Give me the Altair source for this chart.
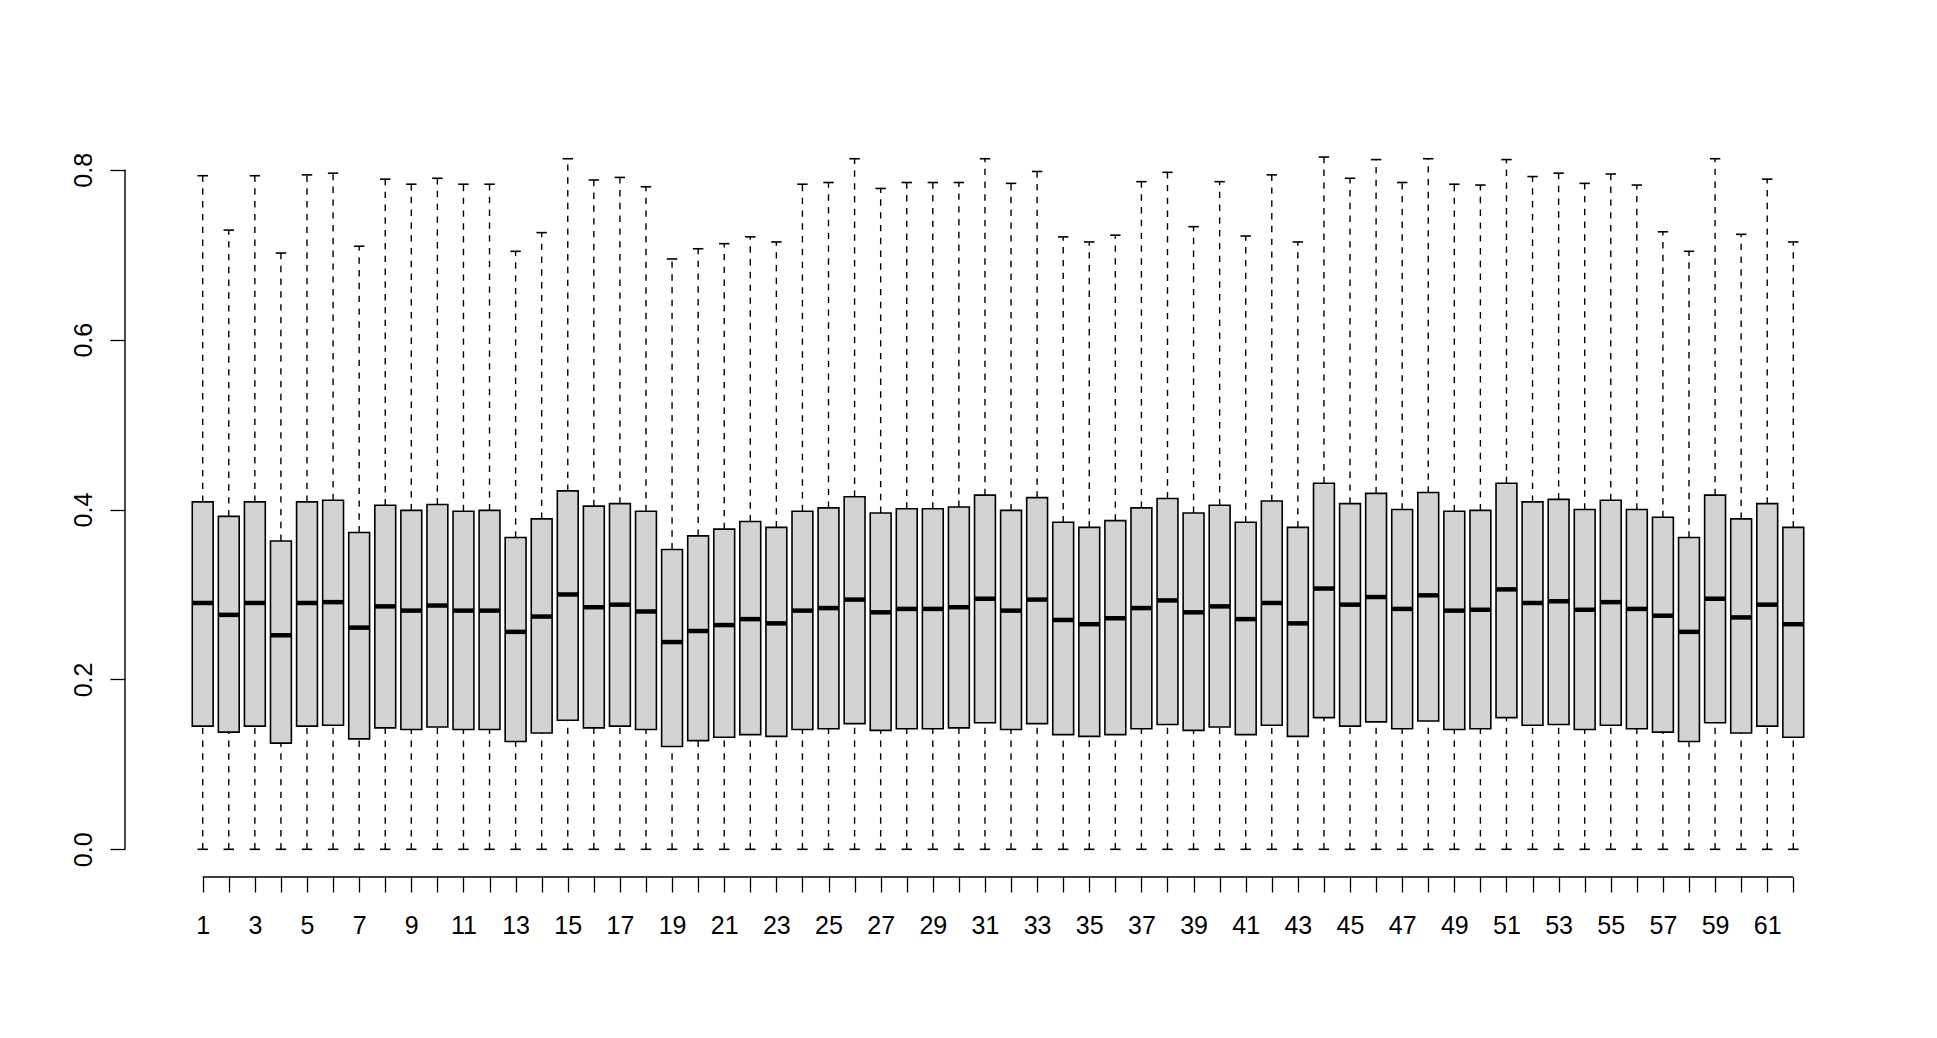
import altair as alt
import pandas as pd

idx = list(range(1, 63))

lo = [0.0] * 62

q1 = [0.145, 0.138, 0.145, 0.125, 0.145, 0.146, 0.130, 0.143, 0.141, 0.144,
      0.141, 0.141, 0.127, 0.137, 0.152, 0.143, 0.145, 0.141, 0.121, 0.128,
      0.132, 0.135, 0.133, 0.141, 0.142, 0.148, 0.140, 0.142, 0.142, 0.143,
      0.149, 0.141, 0.148, 0.135, 0.133, 0.135, 0.142, 0.147, 0.140, 0.144,
      0.135, 0.146, 0.133, 0.155, 0.145, 0.150, 0.142, 0.151, 0.141, 0.142,
      0.155, 0.146, 0.147, 0.141, 0.146, 0.142, 0.138, 0.127, 0.149, 0.137,
      0.145, 0.132]

med = [0.290, 0.276, 0.290, 0.252, 0.290, 0.291, 0.261, 0.286, 0.281, 0.287,
       0.281, 0.281, 0.256, 0.274, 0.300, 0.285, 0.288, 0.280, 0.244, 0.257,
       0.264, 0.271, 0.266, 0.281, 0.284, 0.294, 0.279, 0.283, 0.283, 0.285,
       0.295, 0.281, 0.294, 0.270, 0.265, 0.272, 0.284, 0.293, 0.279, 0.286,
       0.271, 0.290, 0.266, 0.307, 0.288, 0.297, 0.283, 0.299, 0.281, 0.282,
       0.306, 0.290, 0.292, 0.282, 0.291, 0.283, 0.275, 0.256, 0.295, 0.273,
       0.288, 0.265]

q3 = [0.409, 0.392, 0.409, 0.363, 0.409, 0.411, 0.373, 0.405, 0.399, 0.406,
      0.398, 0.399, 0.367, 0.389, 0.422, 0.404, 0.407, 0.398, 0.353, 0.369,
      0.377, 0.386, 0.379, 0.398, 0.402, 0.415, 0.396, 0.401, 0.401, 0.403,
      0.417, 0.399, 0.414, 0.385, 0.379, 0.387, 0.402, 0.413, 0.396, 0.405,
      0.385, 0.410, 0.379, 0.431, 0.407, 0.419, 0.400, 0.420, 0.398, 0.399,
      0.431, 0.409, 0.412, 0.400, 0.411, 0.400, 0.391, 0.367, 0.417, 0.389,
      0.407, 0.379]

hi = [0.793, 0.729, 0.793, 0.702, 0.794, 0.796, 0.710, 0.789, 0.783, 0.790,
      0.783, 0.783, 0.704, 0.726, 0.813, 0.788, 0.791, 0.780, 0.695, 0.707,
      0.713, 0.721, 0.715, 0.783, 0.785, 0.813, 0.778, 0.785, 0.785, 0.785,
      0.813, 0.784, 0.798, 0.721, 0.715, 0.723, 0.786, 0.797, 0.733, 0.786,
      0.722, 0.794, 0.715, 0.815, 0.790, 0.812, 0.785, 0.813, 0.783, 0.782,
      0.812, 0.792, 0.796, 0.784, 0.795, 0.782, 0.727, 0.704, 0.813, 0.724,
      0.789, 0.715]

y_ticks = [0.0, 0.2, 0.4, 0.6, 0.8]

df = pd.DataFrame({"idx": idx, "lo": lo, "q1": q1, "med": med, "q3": q3, "hi": hi})

FONT = "Liberation Sans"
FS = 25
XDOM = [-1.98, 64.98]
YDOM = [-0.0326, 0.848]

xscale = alt.Scale(domain=XDOM, nice=False, zero=False)
yscale = alt.Scale(domain=YDOM, nice=False, zero=False)

xaxis = alt.Axis(values=idx, labelExpr="datum.value % 2 == 1 ? datum.label : ''",
                 tickSize=15, tickWidth=1.3, tickColor="black", domain=False, grid=False,
                 labelPadding=33, labelBaseline="middle", labelAlign="center",
                 labelFont=FONT, labelFontSize=FS, labelColor="black",
                 labelOverlap=False, labelFlush=False, labelBound=False, title="")
yaxis = alt.Axis(values=y_ticks, format=".1f", labelAngle=270, labelAlign="center",
                 labelBaseline="middle", tickSize=15, tickWidth=1.3, tickColor="black",
                 domain=False, grid=False, labelPadding=27, labelFont=FONT,
                 labelFontSize=FS, labelColor="black", labelOverlap=False,
                 labelFlush=False, labelBound=False, title="")

base = alt.Chart(df).transform_calculate(
    xl="datum.idx - 0.4", xr="datum.idx + 0.4",
    sl="datum.idx - 0.2", sr="datum.idx + 0.2")

dash = [6.4, 6.4]

upper_wh = base.mark_rule(color="black", strokeWidth=1.4, strokeDash=dash).encode(
    x=alt.X("idx:Q", scale=xscale, axis=xaxis),
    y=alt.Y("q3:Q", scale=yscale, axis=yaxis),
    y2="hi:Q")
lower_wh = base.mark_rule(color="black", strokeWidth=1.4, strokeDash=dash).encode(
    x=alt.X("idx:Q", scale=xscale, axis=xaxis),
    y=alt.Y("lo:Q", scale=yscale, axis=yaxis),
    y2="q1:Q")
top_staple = base.mark_rule(color="black", strokeWidth=1.6).encode(
    x=alt.X("sl:Q", scale=xscale, axis=xaxis), x2="sr:Q",
    y=alt.Y("hi:Q", scale=yscale, axis=yaxis))
bot_staple = base.mark_rule(color="black", strokeWidth=1.6).encode(
    x=alt.X("sl:Q", scale=xscale, axis=xaxis), x2="sr:Q",
    y=alt.Y("lo:Q", scale=yscale, axis=yaxis))
boxes = base.mark_bar(fill="#d3d3d3", stroke="black", strokeWidth=1.6).encode(
    x=alt.X("xl:Q", scale=xscale, axis=xaxis), x2="xr:Q",
    y=alt.Y("q1:Q", scale=yscale, axis=yaxis), y2="q3:Q")
medians = base.mark_rule(color="black", strokeWidth=4.5).encode(
    x=alt.X("xl:Q", scale=xscale, axis=xaxis), x2="xr:Q",
    y=alt.Y("med:Q", scale=yscale, axis=yaxis))

yline = alt.Chart(pd.DataFrame({"x": [XDOM[0]], "y0": [0.0], "y1": [0.8]})).mark_rule(
    color="black", strokeWidth=1.4).encode(
    x=alt.X("x:Q", scale=xscale, axis=xaxis),
    y=alt.Y("y0:Q", scale=yscale, axis=yaxis), y2="y1:Q")
xline = alt.Chart(pd.DataFrame({"x0": [1], "x1": [62], "y": [YDOM[0]]})).mark_rule(
    color="black", strokeWidth=1.4).encode(
    x=alt.X("x0:Q", scale=xscale, axis=xaxis), x2="x1:Q",
    y=alt.Y("y:Q", scale=yscale, axis=yaxis))

chart = alt.layer(upper_wh, lower_wh, top_staple, bot_staple, boxes, medians, yline, xline).properties(
    width=1746, height=748,
    autosize=alt.AutoSizeParams(type="none"),
    padding={"left": 117, "top": 121, "right": 50, "bottom": 140},
    background="white",
).configure_view(strokeWidth=0)

chart.save("out.html", embed_options={"renderer": "svg", "actions": False})
